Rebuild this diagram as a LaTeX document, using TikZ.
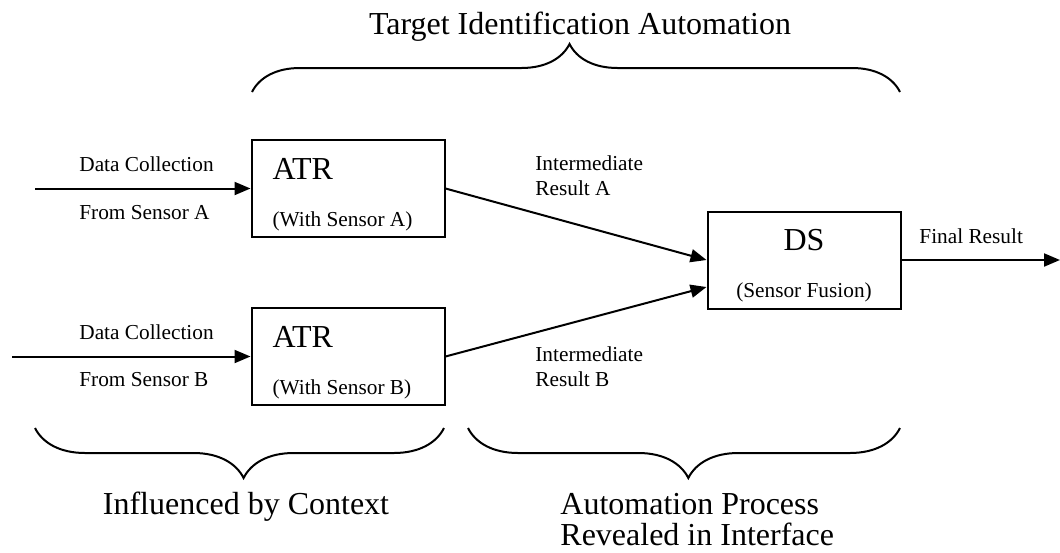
\documentclass[tikz,border=0pt]{standalone}
\usepackage{fontspec}
\setmainfont{Liberation Serif}
\usetikzlibrary{arrows.meta,decorations.pathreplacing}
\newcommand{\bigtext}{\fontsize{16}{15.5}\selectfont}
\newcommand{\smalltext}{\fontsize{10.65}{12.5}\selectfont}
\tikzstyle{block} = [rectangle, draw, line width=1pt, font=\bigtext, align=flush left,
    text width=75.5pt, inner xsep=10.5pt, inner ysep=0pt, minimum width=96.5pt,
    minimum height=48.5pt, execute at begin node=\rule{0pt}{16.5pt}]
\tikzstyle{line} = [draw, line width=1pt, -{Triangle[length=8pt,width=6.5pt]}]
\tikzstyle{curly} = [draw, line width=1pt, decorate, decoration={brace, amplitude=25pt, aspect=0.49}]
\tikzstyle{note} = [font=\smalltext, align=left, inner sep=0pt]
\tikzstyle{heading} = [font=\bigtext, align=left, inner sep=0pt]

\begin{document}
\begin{tikzpicture}[x=0.5pt, y=-0.5pt, node distance=84pt]

	\useasboundingbox (0,0) rectangle (1060,552);

	\node [block] (atra) at (348,188.5) {ATR\\[8pt]\smalltext (With Sensor A)};
	\node [block, below of=atra] (atrb) {ATR\\[8pt]\smalltext (With Sensor B)};
	\node [block, align=flush center] (ds) at (804,260) {DS\\[8pt]\smalltext (Sensor Fusion)};

	\coordinate (srca) at (35,188.5);
	\coordinate (srcb) at (12,356.5);
	\coordinate (sink) at (1060,260);

	\path [line] (srca) -- (atra.west);
	\path [line] (srcb) -- (atrb.west);
	\path [line] (atra.east) -- (ds.west);
	\path [line] (atrb.east) -- ([yshift=-13.5pt]ds.west);
	\path [line] (ds.east) -- (sink);

	\node [note, anchor=west] (dca) at (79,164) {Data Collection};
	\node [note, anchor=west] (fsa) at (79,213) {From Sensor A};
	\node [note, anchor=west] (dcb) at (79,332) {Data Collection};
	\node [note, anchor=west] (fsb) at (79,380) {From Sensor B};
	\node [note, anchor=west] (ira) at (535,175.5) {Intermediate\\Result A};
	\node [note, anchor=west] (irb) at (535,367) {Intermediate\\Result B};
	\node [note, anchor=west] (final) at (919,236) {Final Result};

	\draw [curly, decoration={amplitude=24pt}] (252,92) -- (900,92);
	\draw [curly] (444,428) -- (35,428);
	\draw [curly] (900,428) -- (468,428);

	\node [heading] (tia) at (580,27) {Target Identification Automation};
	\node [heading] (ctx) at (246,507) {Influenced by Context};
	\node [heading, anchor=west] (api) at (560,520) {Automation Process\\Revealed in Interface};

\end{tikzpicture}
\end{document}
